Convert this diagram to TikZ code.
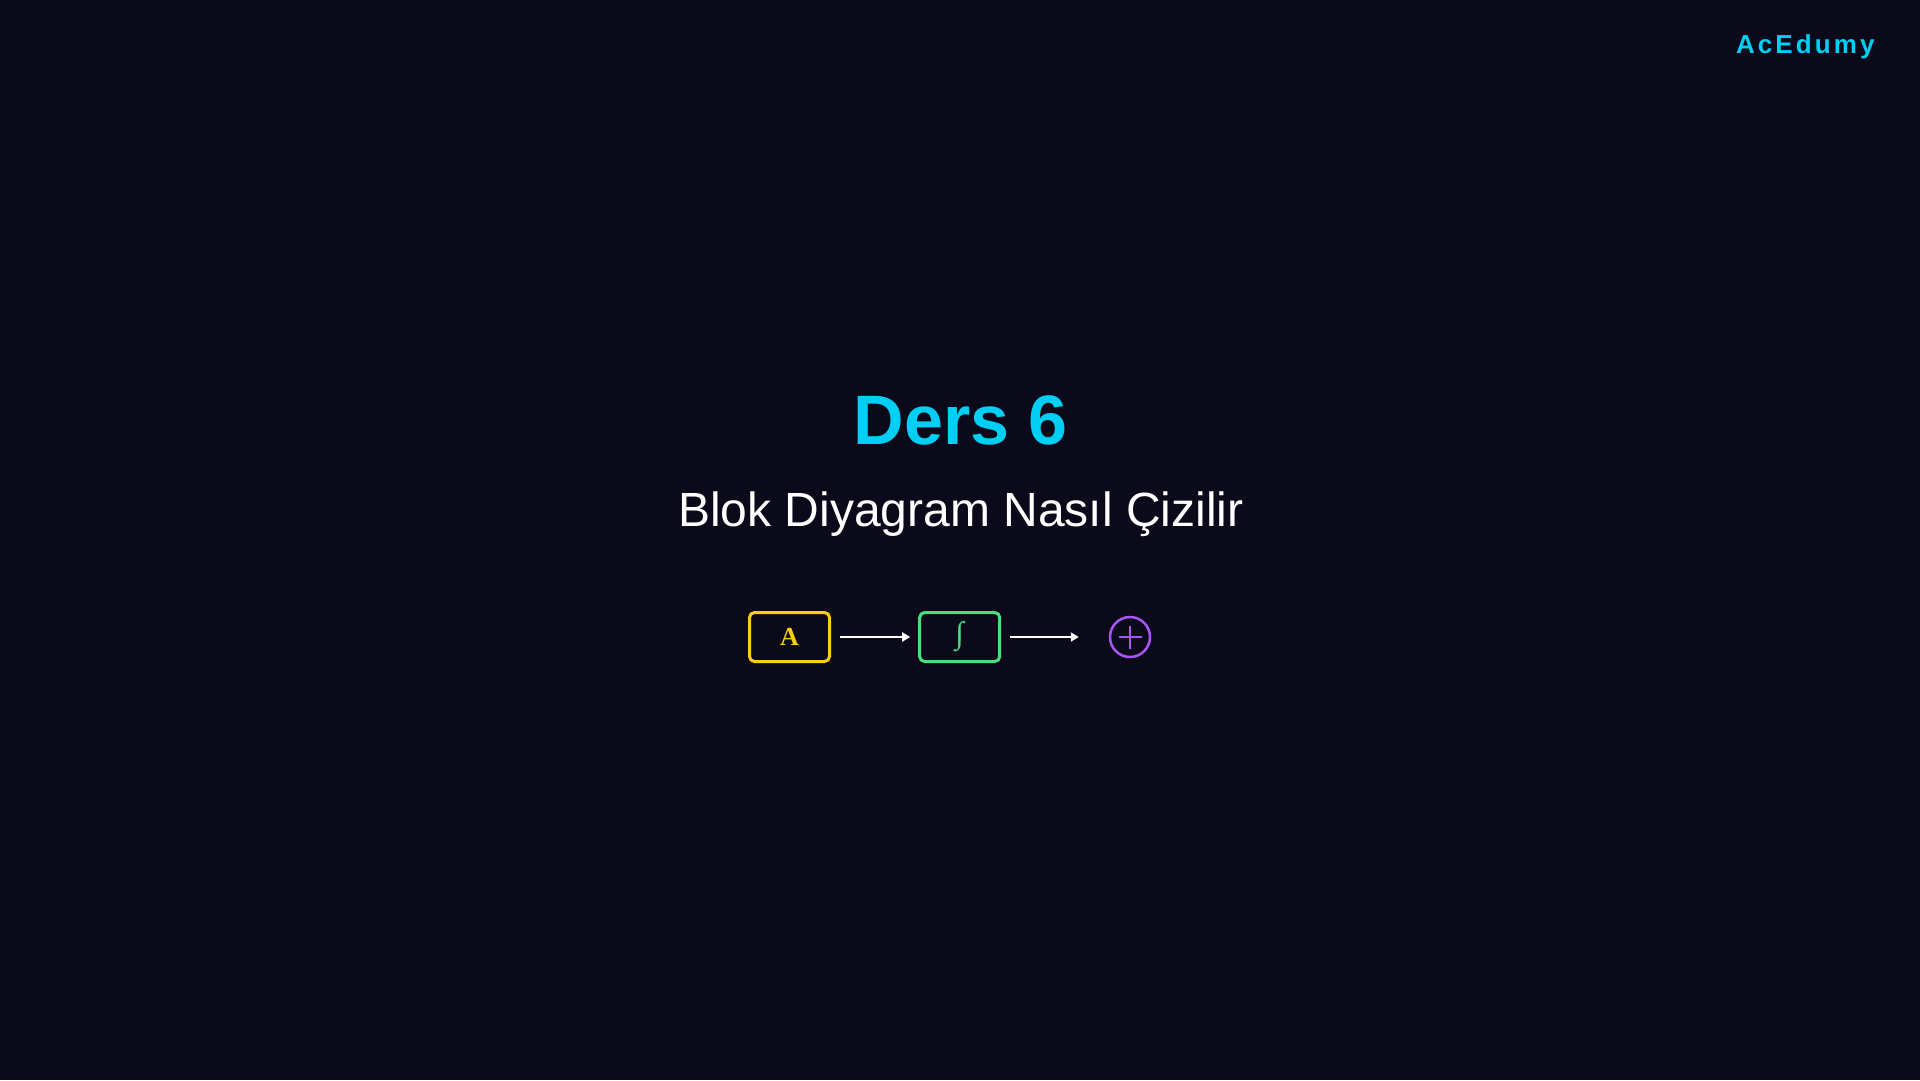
\documentclass[tikz,border=0pt]{standalone}
\usepackage{fontspec}
\setmainfont{Liberation Sans}
\newfontfamily\serifA{Liberation Serif}
\newfontfamily\brandfont[LetterSpace=12]{Liberation Sans}
\usetikzlibrary{arrows.meta}
\definecolor{bg}{HTML}{0A0A1A}
\definecolor{cyanT}{HTML}{00CFF5}
\definecolor{yel}{HTML}{FACC15}
\definecolor{grn}{HTML}{4ADE80}
\definecolor{pur}{HTML}{A855F7}
\tikzset{
  blockbox/.style={draw, line width=3pt, rounded corners=5pt, minimum width=80pt, minimum height=49pt, inner sep=0pt},
  flow/.style={draw=white, line width=2pt, -{Triangle[length=8pt,width=9pt]}},
  sumnode/.style={draw=pur, circle, line width=2.5pt, minimum size=40pt, inner sep=0pt},
  txt/.style={inner sep=0pt, outer sep=0pt}
}
\begin{document}
\begin{tikzpicture}[x=1pt,y=-1pt]
\fill[bg] (0,0) rectangle (1920,1080);
\useasboundingbox (0,0) rectangle (1920,1080);
\node[txt, anchor=base west, text=cyanT] (brand) at (1736,53) {\fontsize{26}{30}\selectfont\brandfont\bfseries AcEdumy};
\node[txt, anchor=base, text=cyanT] (title) at (961,444) {\fontsize{70}{80}\selectfont\bfseries Ders 6};
\node[txt, anchor=base, text=white] (sub) at (961,526) {\fontsize{48}{56}\selectfont Blok Diyagram Nasıl Çizilir};
\node[blockbox, draw=yel, text=yel] (A) at (789.5,637) {\fontsize{26}{30}\selectfont\serifA\bfseries A};
\node[blockbox, draw=grn, text=grn] (I) at (959.7,637) {\fontsize{31}{34}\selectfont\serifA ∫};
\node[sumnode] (S) at (1130,637) {};
\draw[pur, line width=1.8pt] ([xshift=-11.5pt]S.center) -- ([xshift=11.5pt]S.center);
\draw[pur, line width=1.8pt] ([yshift=-11.5pt]S.center) -- ([yshift=11.5pt]S.center);
\draw[flow, shorten <=9pt, shorten >=8pt] (A.east) -- (I.west);
\draw[flow, shorten <=9pt, shorten >=30pt] (I.east) -- (S.west);
\end{tikzpicture}
\end{document}
